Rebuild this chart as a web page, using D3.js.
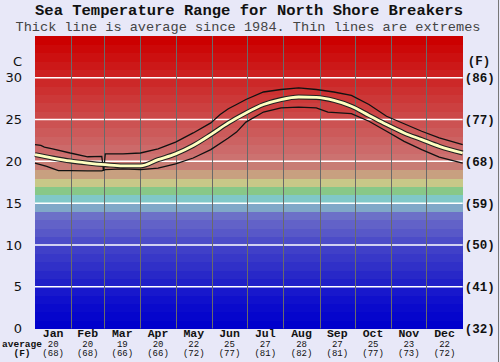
<!DOCTYPE html>
<html><head><meta charset="utf-8">
<script src="https://cdn.jsdelivr.net/npm/d3@7"></script>
<style>
html,body{margin:0;padding:0;background:#e8e8f8;}
svg{display:block;}
</style></head>
<body>
<svg id="c" width="500" height="362"></svg>
<script>
// ---- data ----
const monthNames = ["Jan","Feb","Mar","Apr","May","Jun","Jul","Aug","Sep","Oct","Nov","Dec"];
const monthDays = [31,28,31,30,31,30,31,31,30,31,30,31];
const monthAvgC = [20,20,19,20,22,25,27,28,27,25,23,22];
const monthAvgF = ["(68)","(68)","(66)","(66)","(72)","(77)","(81)","(82)","(81)","(77)","(73)","(72)"];

const avgDays = [0,15,30,45,60,75,90,105,120,135,150,165,180,195,210,225,240,255,270,285,300,315,330,345,365];
const avgTemp = [20.8,20.4,20.05,19.8,19.6,19.45,19.45,20.2,20.9,21.9,23.2,24.6,25.8,26.8,27.4,27.7,27.65,27.3,26.6,25.5,24.4,23.4,22.6,21.8,21.0];

const maxDays = [0,5,8,15,30,45,57,58.5,60,75,90,105,120,135,150,158,165,172,180,195,210,225,240,255,270,285,300,315,330,345,365];
const maxTemp = [22.0,21.9,21.7,21.5,21.0,20.55,20.6,18.85,20.9,20.9,21.0,21.5,22.3,23.4,24.6,25.6,26.3,26.8,27.4,28.3,28.6,28.8,28.6,28.3,27.9,26.8,25.4,24.5,23.6,22.8,22.0];

const minDays = [0,10,20,30,45,57,60,75,90,105,120,135,150,165,172,180,195,210,225,240,250,270,285,300,315,330,345,365];
const minTemp = [19.8,19.4,18.9,18.9,18.85,18.85,19.0,19.1,19.0,19.2,19.7,20.4,21.4,22.8,23.5,24.7,25.9,26.4,26.5,26.4,25.9,25.7,24.8,23.6,22.4,21.4,20.5,19.8];

const yTicksC = [0,5,10,15,20,25,30];
const yTicksF = ["(32)","(41)","(50)","(59)","(68)","(77)","(86)"];
const bandColors = ["#0000cc","#0505cc","#0a0acc","#1010cc","#1818cc","#2020c8","#2828c8","#3030c8","#3838c8","#4040c8",
  "#4c4cc8","#5858c8","#6262c8","#6c70c8","#80a8c8","#80c8c8","#88c888","#c8c888","#c8a080","#c87c74",
  "#cc7270","#cc6a6a","#cc6262","#cc5a5a","#cc5252","#cc4848","#cc4040","#cc3838","#cc3030","#cc2828",
  "#cc2020","#cc1818","#cc1010","#cc0808","#cc0000"];

// ---- chart ----
const svg = d3.select("#c");
const x = d3.scaleLinear().domain([0,365]).range([35,462.7]);
const y = d3.scaleLinear().domain([0,35]).range([328.5,36]);

// bands
svg.append("g").selectAll("rect").data(bandColors).join("rect")
  .attr("x", x(0)).attr("width", x(365)-x(0))
  .attr("y", (d,i)=>y(i+1)).attr("height",(d,i)=>y(i)-y(i+1)+0.5)
  .attr("fill", d=>d).attr("shape-rendering","crispEdges");

// horizontal grid
svg.append("g").selectAll("line").data(yTicksC.filter(t=>t>0)).join("line")
  .attr("x1", x(0)).attr("x2", x(365))
  .attr("y1", d=>y(d)).attr("y2", d=>y(d))
  .attr("stroke","#ffffff").attr("stroke-width",1.5);

// month boundaries
const monthStart = monthDays.map((d,i)=>d3.sum(monthDays.slice(0,i)));
svg.append("g").selectAll("line").data(monthStart.slice(1)).join("line")
  .attr("x1", d=>Math.round(x(d))+0.5).attr("x2", d=>Math.round(x(d))+0.5)
  .attr("y1", y(35)).attr("y2", y(0))
  .attr("stroke","#6a6a6a").attr("stroke-width",1);

// lines
const mk = (days)=>d3.line().x((d,i)=>x(days[i])).y(d=>y(d));
svg.append("path").datum(maxTemp).attr("d", mk(maxDays)).attr("fill","none").attr("stroke","#111").attr("stroke-width",1.3);
svg.append("path").datum(minTemp).attr("d", mk(minDays)).attr("fill","none").attr("stroke","#111").attr("stroke-width",1.3);
svg.append("path").datum(avgTemp).attr("d", mk(avgDays).curve(d3.curveMonotoneX)).attr("fill","none").attr("stroke","#222").attr("stroke-width",5);
svg.append("path").datum(avgTemp).attr("d", mk(avgDays).curve(d3.curveMonotoneX)).attr("fill","none").attr("stroke","#ffffc0").attr("stroke-width",2.8);

// left axis
const la = d3.axisLeft(y).tickValues(yTicksC).tickSize(0).tickPadding(13);
const lg = svg.append("g").attr("transform",`translate(${x(0)},0)`).call(la);
lg.select(".domain").remove();
lg.selectAll("text").attr("font-family","DejaVu Sans").attr("font-size",13).attr("fill","#111");
svg.append("text").attr("x",22).attr("y",y(32)).attr("dy","0.35em").attr("text-anchor","end")
  .attr("font-family","DejaVu Sans").attr("font-size",13).attr("fill","#111").text("C");

// right axis
const ra = d3.axisRight(y).tickValues(yTicksC).tickFormat((d,i)=>yTicksF[i]).tickSize(0).tickPadding(2);
const rg = svg.append("g").attr("transform",`translate(${x(365)},0)`).call(ra);
rg.select(".domain").remove();
rg.selectAll("text").attr("font-family","Liberation Mono").attr("font-weight","bold").attr("font-size",12.5).attr("fill","#111");
svg.append("text").attr("x",479).attr("y",y(32)).attr("dy","0.35em").attr("text-anchor","middle")
  .attr("font-family","Liberation Mono").attr("font-weight","bold").attr("font-size",12.5).attr("fill","#111").text("(F)");

// bottom labels
const mc = monthNames.map((m,i)=>x(monthStart[i]+monthDays[i]/2));
const bg = svg.append("g").attr("font-family","Liberation Mono").attr("fill","#111").attr("text-anchor","middle");
bg.selectAll("text.m").data(monthNames).join("text").attr("class","m")
  .attr("x",(d,i)=>mc[i]).attr("y",337).attr("font-size",11.5).attr("font-weight","bold").text(d=>d);
bg.selectAll("text.c").data(monthAvgC).join("text").attr("class","c")
  .attr("x",(d,i)=>mc[i]).attr("y",346.5).attr("font-size",9).text(d=>d);
bg.selectAll("text.f").data(monthAvgF).join("text").attr("class","f")
  .attr("x",(d,i)=>mc[i]).attr("y",356).attr("font-size",9).text(d=>d);
bg.append("text").attr("x",22).attr("y",346.5).attr("font-size",9.5).attr("font-weight","bold").text("average");
bg.append("text").attr("x",22).attr("y",356).attr("font-size",9.5).attr("font-weight","bold").text("(F)");

// titles
svg.append("text").attr("x",249).attr("y",15).attr("text-anchor","middle")
  .attr("font-family","Liberation Mono").attr("font-weight","bold").attr("font-size",15.5).attr("fill","#111")
  .text("Sea Temperature Range for North Shore Breakers");
svg.append("text").attr("x",248).attr("y",31).attr("text-anchor","middle")
  .attr("font-family","Liberation Mono").attr("font-size",13.6).attr("fill","#444")
  .text("Thick line is average since 1984. Thin lines are extremes");

// right border
svg.append("line").attr("x1",498.5).attr("x2",498.5).attr("y1",0).attr("y2",362).attr("stroke","#777");
</script>
</body></html>
